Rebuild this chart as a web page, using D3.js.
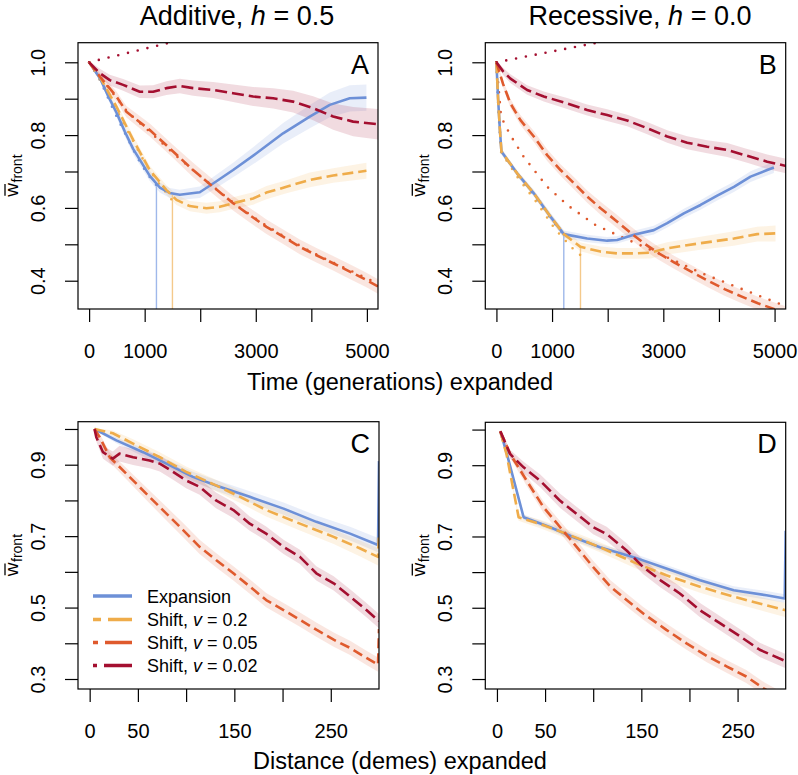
<!DOCTYPE html>
<html><head><meta charset="utf-8">
<script src="https://cdn.jsdelivr.net/npm/d3@7"></script>
<style>
body{margin:0;background:#fff}
svg{display:block}
text{font-family:"Liberation Sans",Arial,Helvetica,sans-serif;fill:#000}
</style>
</head><body>
<svg id="chart" width="798" height="775"></svg>
<script>
// ---------------- DATA ----------------
const seriesKeys = ["exp", "v02", "v005", "v002"];
const legendLabels = [["Expansion", "", ""], ["Shift, ", "v", " = 0.2"], ["Shift, ", "v", " = 0.05"], ["Shift, ", "v", " = 0.02"]];
const panelTitles = [["Additive, ", "h", " = 0.5"], ["Recessive, ", "h", " = 0.0"]];
const panelLetters = ["A", "B", "C", "D"];

const timeTicks = [0, 1000, 2000, 3000, 4000, 5000];
const timeTickLabels = ["0", "1000", "", "3000", "", "5000"];
const distTicks = [0, 50, 100, 150, 200, 250];
const distTickLabels = ["0", "50", "", "150", "", "250"];
const wTicksTop = [0.4, 0.5, 0.6, 0.7, 0.8, 0.9, 1.0];
const wTickLabelsTop = ["0.4", "", "0.6", "", "0.8", "", "1.0"];
const wTicksBottom = [0.3, 0.4, 0.5, 0.6, 0.7, 0.8, 0.9, 1.0];
const wTickLabelsBottom = ["0.3", "", "0.5", "", "0.7", "", "0.9", ""];

// [x, mean fitness, CI half-width]
// Panel A (additive, time)
const A_exp = [[0,1.0,0.003],[200,0.955,0.007],[350,0.905,0.01],[492,0.862,0.012],[642,0.81,0.013],[792,0.762,0.014],[1092,0.688,0.014],[1272,0.656,0.014],[1452,0.641,0.014],[1632,0.636,0.014],[1992,0.643,0.016],[2232,0.667,0.018],[2592,0.704,0.02],[3012,0.75,0.024],[3492,0.805,0.028],[3972,0.851,0.032],[4332,0.883,0.034],[4692,0.901,0.036],[4992,0.903,0.036]];
const A_v02 = [[0,1.0,0.003],[200,0.958,0.008],[492,0.878,0.01],[792,0.787,0.012],[1092,0.704,0.012],[1392,0.649,0.013],[1572,0.622,0.014],[1812,0.605,0.014],[2112,0.599,0.015],[2352,0.603,0.015],[2592,0.613,0.016],[2952,0.626,0.017],[3192,0.642,0.018],[3552,0.658,0.018],[3972,0.677,0.02],[4392,0.689,0.02],[4992,0.702,0.022]];
const A_v005 = [[0,1.0,0.004],[192,0.961,0.01],[492,0.906,0.014],[672,0.864,0.016],[1092,0.814,0.018],[1512,0.755,0.018],[1872,0.704,0.02],[2232,0.658,0.02],[2592,0.613,0.02],[2892,0.58,0.02],[3192,0.548,0.02],[3492,0.521,0.02],[3792,0.493,0.02],[4092,0.47,0.02],[4392,0.448,0.02],[4692,0.425,0.02],[4992,0.402,0.02],[5200,0.384,0.02]];
const A_v002 = [[0,1.0,0.004],[192,0.97,0.012],[372,0.951,0.015],[612,0.938,0.016],[912,0.919,0.017],[1152,0.919,0.018],[1392,0.929,0.019],[1632,0.935,0.02],[1872,0.929,0.021],[2232,0.924,0.022],[2592,0.915,0.024],[2952,0.906,0.026],[3312,0.901,0.028],[3672,0.892,0.03],[4032,0.874,0.033],[4392,0.851,0.036],[4752,0.837,0.04],[5200,0.83,0.042]];
const A_exp_theory = [[0,1.0],[200,0.95],[450,0.865],[642,0.806],[860,0.74],[1062,0.69],[1212,0.662]];
const A_v02_theory = [[0,1.0],[300,0.925],[700,0.81],[1000,0.725],[1250,0.668],[1500,0.62]];
const A_v005_theory = [[0,1.0],[300,0.94],[700,0.862],[1100,0.808],[1500,0.752],[1900,0.70],[2300,0.65],[2700,0.602],[3100,0.56],[3500,0.522],[3900,0.487],[4300,0.456],[4700,0.428],[5000,0.406],[5200,0.392]];
const A_v002_theory = [[0,1.0],[1400,1.052],[2000,1.075]];
const A_markerX = [1212, 1500];
const A_markerW = [0.664, 0.636];

// Panel B (recessive, time)
const B_exp = [[0,1.0,0.003],[30,0.9,0.006],[60,0.82,0.008],[90,0.755,0.008],[372,0.695,0.008],[672,0.64,0.009],[972,0.576,0.01],[1211,0.528,0.01],[1631,0.516,0.01],[1990,0.51,0.01],[2170,0.512,0.01],[2470,0.526,0.011],[2830,0.539,0.012],[3070,0.558,0.012],[3369,0.585,0.013],[3669,0.608,0.013],[3969,0.634,0.014],[4269,0.658,0.014],[4568,0.686,0.015],[4868,0.704,0.015],[4988,0.711,0.015]];
const B_v02 = [[0,1.0,0.003],[30,0.9,0.006],[60,0.82,0.008],[90,0.755,0.008],[372,0.695,0.008],[672,0.64,0.009],[972,0.576,0.01],[1211,0.528,0.01],[1391,0.507,0.012],[1511,0.493,0.012],[1871,0.48,0.014],[2170,0.475,0.015],[2470,0.475,0.015],[2770,0.477,0.016],[3070,0.489,0.017],[3669,0.503,0.018],[4269,0.516,0.02],[4688,0.528,0.02],[5018,0.53,0.022]];
const B_v005 = [[0,1.0,0.004],[120,0.94,0.01],[252,0.887,0.012],[432,0.841,0.014],[672,0.796,0.015],[912,0.745,0.016],[1152,0.704,0.016],[1392,0.668,0.017],[1632,0.631,0.017],[1872,0.599,0.018],[2150,0.565,0.018],[2400,0.533,0.018],[2650,0.503,0.018],[2900,0.477,0.018],[3200,0.45,0.018],[3500,0.425,0.018],[3800,0.40,0.018],[4100,0.377,0.018],[4400,0.357,0.018],[4700,0.338,0.018],[5000,0.322,0.018],[5200,0.312,0.018]];
const B_v002 = [[0,1.0,0.004],[120,0.975,0.01],[252,0.955,0.012],[552,0.924,0.013],[851,0.906,0.014],[1271,0.887,0.015],[1631,0.869,0.015],[1990,0.855,0.016],[2350,0.84,0.016],[2710,0.819,0.017],[3070,0.796,0.017],[3429,0.779,0.018],[3789,0.768,0.018],[4149,0.759,0.019],[4508,0.743,0.019],[4868,0.727,0.02],[5210,0.715,0.02]];
const B_exp_theory = [[0,1.0],[25,0.9],[55,0.82],[85,0.755],[372,0.69],[672,0.634],[972,0.572],[1211,0.526]];
const B_v02_theory = [[0,1.0],[85,0.752],[400,0.68],[700,0.62],[1062,0.54],[1362,0.49],[1511,0.47]];
const B_v005_theory = [[0,1.0],[84,0.85],[250,0.80],[492,0.74],[912,0.658],[1300,0.605],[1782,0.553],[2250,0.52],[2700,0.49],[3200,0.455],[3700,0.42],[4200,0.39],[4700,0.36],[5200,0.33]];
const B_v002_theory = [[0,1.0],[1750,1.052],[2500,1.075]];
const B_markerX = [1211, 1511];
const B_markerW = [0.528, 0.493];

// Panel C (additive, distance)
const C_exp = [[5,1.0,0.003],[27.7,0.968,0.008],[55.4,0.935,0.012],[79.6,0.903,0.013],[107,0.866,0.014],[131,0.842,0.015],[166,0.81,0.016],[201,0.777,0.017],[235,0.74,0.018],[270,0.707,0.019],[299,0.675,0.02],[300,0.91,0.02]];
const C_v02 = [[5,1.0,0.003],[24,0.988,0.008],[45,0.959,0.012],[72.7,0.921,0.014],[100,0.88,0.015],[131,0.842,0.016],[156,0.81,0.017],[183,0.773,0.018],[218,0.735,0.019],[253,0.698,0.02],[280,0.666,0.022],[299,0.642,0.024],[300,0.71,0.024]];
const C_v005 = [[5,1.0,0.004],[10.4,0.977,0.01],[20.8,0.921,0.014],[38,0.875,0.016],[62,0.81,0.018],[79.6,0.763,0.019],[96.9,0.717,0.02],[114,0.67,0.02],[131,0.633,0.02],[149,0.596,0.02],[166,0.559,0.02],[183,0.521,0.02],[201,0.493,0.02],[218,0.466,0.02],[235,0.438,0.02],[253,0.41,0.02],[270,0.387,0.02],[287,0.359,0.02],[299,0.34,0.02],[300,0.44,0.02]];
const C_v002 = [[5,1.0,0.004],[6.9,0.977,0.012],[13.8,0.935,0.018],[24,0.917,0.02],[31,0.931,0.022],[45,0.921,0.022],[62,0.912,0.022],[72.7,0.903,0.022],[86.5,0.88,0.022],[100,0.856,0.022],[114,0.838,0.022],[131,0.8,0.022],[149,0.773,0.022],[166,0.735,0.02],[183,0.707,0.02],[201,0.67,0.02],[218,0.642,0.02],[235,0.596,0.02],[253,0.568,0.02],[270,0.531,0.02],[287,0.493,0.02],[300,0.462,0.02]];

// Panel D (recessive, distance)
const D_exp = [[3.5,0.995,0.003],[10.4,0.931,0.006],[27.7,0.754,0.008],[55.4,0.726,0.008],[79.6,0.698,0.009],[107,0.67,0.009],[142,0.642,0.01],[176,0.61,0.01],[211,0.577,0.011],[246,0.549,0.011],[280,0.535,0.012],[299,0.526,0.012],[300,0.716,0.012]];
const D_v02 = [[3.5,0.995,0.003],[10,0.93,0.008],[22.5,0.754,0.01],[45,0.735,0.012],[72.7,0.707,0.013],[107,0.67,0.014],[142,0.628,0.015],[176,0.591,0.016],[211,0.559,0.017],[246,0.531,0.018],[280,0.507,0.019],[300,0.493,0.02]];
const D_v005 = [[3.5,0.995,0.004],[13.8,0.931,0.01],[31,0.856,0.014],[48.4,0.782,0.016],[65.7,0.726,0.017],[83,0.67,0.018],[100,0.614,0.018],[118,0.559,0.018],[135,0.521,0.018],[152,0.484,0.018],[176,0.438,0.018],[197,0.40,0.018],[218,0.365,0.018],[239,0.335,0.018],[259,0.307,0.018],[278,0.272,0.018],[300,0.24,0.018]];
const D_v002 = [[3.5,0.995,0.004],[13.8,0.931,0.012],[27.7,0.894,0.016],[45,0.856,0.018],[65.7,0.80,0.02],[83,0.763,0.02],[100,0.726,0.02],[114,0.707,0.02],[135,0.66,0.02],[152,0.614,0.02],[170,0.577,0.02],[190,0.54,0.02],[211,0.493,0.02],[232,0.456,0.02],[253,0.419,0.02],[273,0.382,0.02],[300,0.35,0.02]];

// ---------------- STYLE ----------------
const COLORS = {exp: "#6d90d7", v02: "#efac4a", v005: "#df5a2d", v002: "#a40f30"};
const LIGHT = {exp: "#9fb8ea", v02: "#f4c98b"};
const DASH = {exp: null, v02: "11,5", v005: "10,5", v002: "12,5"};
const LEGEND_DASH = {exp: null, v02: "8,7,24,100", v005: "5,7,27,100", v002: "4,7,28,100"};

const panels = [
  {letter: 0, box: [78, 42.7, 378, 309], xDom: [-200, 5200], yDom: [0.3223, 1.0538],
   xT: timeTicks, xL: timeTickLabels, yT: wTicksTop, yL: wTickLabelsTop,
   series: {exp: A_exp, v02: A_v02, v005: A_v005, v002: A_v002},
   theory: {exp: A_exp_theory, v02: A_v02_theory, v005: A_v005_theory, v002: A_v002_theory},
   markers: [["exp", A_markerX[0], A_markerW[0]], ["v02", A_markerX[1], A_markerW[1]]]},
  {letter: 1, box: [485.3, 42.7, 785.7, 309], xDom: [-200, 5200], yDom: [0.3223, 1.0538],
   xT: timeTicks, xL: timeTickLabels, yT: wTicksTop, yL: wTickLabelsTop,
   series: {exp: B_exp, v02: B_v02, v005: B_v005, v002: B_v002},
   theory: {exp: B_exp_theory, v02: B_v02_theory, v005: B_v005_theory, v002: B_v002_theory},
   markers: [["exp", B_markerX[0], B_markerW[0]], ["v02", B_markerX[1], B_markerW[1]]]},
  {letter: 2, box: [78, 421.7, 379, 689], xDom: [-12.1, 300], yDom: [0.272, 1.0204],
   xT: distTicks, xL: distTickLabels, yT: wTicksBottom, yL: wTickLabelsBottom,
   series: {exp: C_exp, v02: C_v02, v005: C_v005, v002: C_v002}, theory: {}, markers: [], legend: true},
  {letter: 3, box: [485.3, 422.3, 785.7, 689], xDom: [-12.1, 300], yDom: [0.272, 1.0204],
   xT: distTicks, xL: distTickLabels, yT: wTicksBottom, yL: wTickLabelsBottom,
   series: {exp: D_exp, v02: D_v02, v005: D_v005, v002: D_v002}, theory: {}, markers: []}
];

const svg = d3.select("#chart");

panels.forEach(p => {
  const [x0, y0, x1, y1] = p.box;
  const x = d3.scaleLinear().domain(p.xDom).range([x0, x1]);
  const y = d3.scaleLinear().domain(p.yDom).range([y1, y0]);
  const clipId = "clip" + p.letter;
  svg.append("clipPath").attr("id", clipId).append("rect")
    .attr("x", x0).attr("y", y0).attr("width", x1 - x0).attr("height", y1 - y0);
  const g = svg.append("g").attr("clip-path", `url(#${clipId})`);

  const area = d3.area().x(d => x(d[0])).y0(d => y(d[1] - d[2])).y1(d => y(d[1] + d[2]));
  const line = d3.line().x(d => x(d[0])).y(d => y(d[1]));

  seriesKeys.forEach(k => {
    g.append("path").datum(p.series[k]).attr("d", area)
      .attr("fill", COLORS[k]).attr("fill-opacity", 0.15).attr("stroke", "none");
  });
  p.markers.forEach(m => {
    g.append("line").attr("x1", x(m[1])).attr("x2", x(m[1]))
      .attr("y1", y(m[2])).attr("y2", y1 + 2)
      .attr("stroke", LIGHT[m[0]]).attr("stroke-width", 1.4);
  });
  seriesKeys.forEach(k => {
    if (!p.theory[k]) return;
    g.append("path").datum(p.theory[k]).attr("d", line)
      .attr("fill", "none").attr("stroke", COLORS[k]).attr("stroke-width", 2.6)
      .attr("stroke-linecap", "round").attr("stroke-dasharray", "0,10");
  });
  seriesKeys.forEach(k => {
    g.append("path").datum(p.series[k]).attr("d", line)
      .attr("fill", "none").attr("stroke", COLORS[k]).attr("stroke-width", 2.6)
      .attr("stroke-linejoin", "round")
      .attr("stroke-dasharray", DASH[k]);
  });

  // box
  svg.append("rect").attr("x", x0).attr("y", y0).attr("width", x1 - x0).attr("height", y1 - y0)
    .attr("fill", "none").attr("stroke", "#000").attr("stroke-width", 1.2);

  // axes
  const xa = svg.append("g").attr("transform", `translate(0,${y1})`)
    .call(d3.axisBottom(x).tickValues(p.xT).tickSize(13).tickSizeOuter(0)
      .tickFormat((d, i) => p.xL[i]));
  xa.select(".domain").remove();
  xa.selectAll("line").attr("stroke", "#000").attr("stroke-width", 1.2);
  xa.selectAll("text").attr("y", 49).attr("dy", null).attr("font-size", 20)
    .attr("font-family", null).style("fill", "#000");

  const ya = svg.append("g").attr("transform", `translate(${x0},0)`)
    .call(d3.axisLeft(y).tickValues(p.yT).tickSize(13).tickSizeOuter(0)
      .tickFormat((d, i) => p.yL[i]));
  ya.select(".domain").remove();
  ya.selectAll("line").attr("stroke", "#000").attr("stroke-width", 1.2);
  ya.selectAll("text").attr("x", null).attr("dy", null)
    .attr("transform", "translate(-33,0) rotate(-90)")
    .attr("text-anchor", "middle").attr("font-size", 20).attr("font-family", null).style("fill", "#000");

  // y axis label  w̄_front
  const cy = (y0 + y1) / 2;
  const lg = svg.append("g").attr("transform", `translate(${x0 - 60.5},${cy}) rotate(-90)`);
  const tw = lg.append("text").attr("font-size", 19).text("w");
  const tf = lg.append("text").attr("font-size", 14).text("front");
  const ww = tw.node().getComputedTextLength();
  const wf = tf.node().getComputedTextLength();
  const start = -(ww + wf) / 2;
  tw.attr("x", start).attr("y", 0);
  tf.attr("x", start + ww + 0.5).attr("y", 4);
  lg.append("line").attr("x1", start + 1).attr("x2", start + ww - 1)
    .attr("y1", -12.5).attr("y2", -12.5).attr("stroke", "#000").attr("stroke-width", 1.3);

  // panel letter
  svg.append("text").attr("x", x1 - 9).attr("y", y0 + 31).attr("text-anchor", "end")
    .attr("font-size", 27).text(panelLetters[p.letter]);

  if (p.legend) {
    const rows = [596, 619.5, 642.5, 665.5];
    seriesKeys.forEach((k, i) => {
      svg.append("line").attr("x1", 93).attr("x2", 132).attr("y1", rows[i]).attr("y2", rows[i])
        .attr("stroke", COLORS[k]).attr("stroke-width", 3.6)
        .attr("stroke-dasharray", LEGEND_DASH[k]);
      const t = svg.append("text").attr("x", 147).attr("y", rows[i] + 6.5).attr("font-size", 18);
      t.append("tspan").text(legendLabels[i][0]);
      if (legendLabels[i][1]) {
        t.append("tspan").attr("font-style", "italic").text(legendLabels[i][1]);
        t.append("tspan").text(legendLabels[i][2]);
      }
    });
  }
});

// column titles
[[237, panelTitles[0]], [640, panelTitles[1]]].forEach(([cx, parts]) => {
  const t = svg.append("text").attr("x", cx).attr("y", 25).attr("text-anchor", "middle").attr("font-size", 27);
  t.append("tspan").text(parts[0]);
  t.append("tspan").attr("font-style", "italic").text(parts[1]);
  t.append("tspan").text(parts[2]);
});

// shared axis titles
svg.append("text").attr("x", 400).attr("y", 390).attr("text-anchor", "middle").attr("font-size", 23.5)
  .text("Time (generations) expanded");
svg.append("text").attr("x", 400).attr("y", 769).attr("text-anchor", "middle").attr("font-size", 23.5)
  .text("Distance (demes) expanded");
</script>
</body></html>
